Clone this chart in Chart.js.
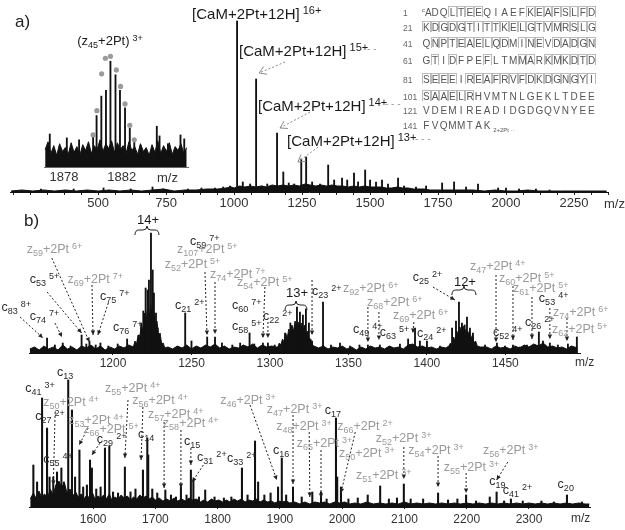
<!DOCTYPE html>
<html>
<head>
<meta charset="utf-8">
<script src="https://cdn.jsdelivr.net/npm/chart.js@4.4.0/dist/chart.umd.min.js"></script>
<style>
  body { margin: 0; background: #fff; width: 625px; height: 530px; overflow: hidden; position: relative; font-family: Arial, "Liberation Sans", sans-serif; }
  canvas { position: absolute; }
  .txt { position: absolute; color: #222; white-space: nowrap; }
  .seq { position: absolute; left: 403px; font-size: 10px; color: #555; white-space: nowrap; }
  .num { display: inline-block; width: 19px; font-size: 8.5px; color: #666; }
  .aa { display: inline-block; width: 8.7px; height: 11px; line-height: 11px; text-align: center; box-sizing: border-box; }
  .cut { border: 1px solid #bbb; border-bottom: none; }
</style>
</head>
<body>
<canvas id="chartA" width="625" height="215" style="left:0;top:0"></canvas>
<canvas id="chartInset" width="152" height="155" style="left:40px;top:30px"></canvas>
<canvas id="chartB1" width="625" height="158" style="left:0;top:212px"></canvas>
<canvas id="chartB2" width="625" height="164" style="left:0;top:366px"></canvas>
<div class="txt" style="left:15px;top:12px;font-size:17px">a)</div>
<div class="txt" style="left:24px;top:211px;font-size:17px">b)</div>
<div class="txt" style="left:604px;top:196px;font-size:13px;color:#333">m/z</div>
<div class="txt" style="left:157px;top:170px;font-size:13px;color:#333">m/z</div>
<div class="txt" style="left:575px;top:355px;font-size:12px;color:#333">m/z</div>
<div class="txt" style="left:571px;top:511px;font-size:12px;color:#333">m/z</div>
<div id="seqBox"></div>
<script>
// ---- panel a: full spectrum (intensity in arbitrary units)
const aPeakMz = [290, 410, 520, 620, 700, 740, 830, 880, 930, 960, 985, 1011, 1032, 1059, 1081, 1103, 1122, 1158, 1181, 1201, 1221, 1247, 1265, 1287, 1316, 1346, 1368, 1397, 1416, 1441, 1456, 1482, 1500, 1522, 1544, 1566, 1603, 1625, 1669, 1706, 1765, 1809, 1853, 1897, 1971, 2000, 2048, 2110, 2160];
const aPeakInt = [3, 3, 4, 3, 5, 3, 3, 4, 4, 5, 6, 171, 10, 8, 113, 6, 8, 59, 20, 9, 8, 33, 35, 10, 8, 27, 12, 14, 12, 19, 10, 22, 12, 10, 12, 8, 14, 6, 5, 6, 9, 10, 5, 8, 4, 4, 3, 3, 2];
const aBase = [[180,1],[220,2],[260,1],[300,2],[340,1],[380,2],[420,1],[460,2],[500,1],[540,2],[580,1],[620,2],[660,1],[700,2],[740,3],[780,1],[820,2],[860,2],[900,3],[940,3],[970,4],[990,5],[1000,4],[1020,6],[1040,5],[1060,6],[1080,5],[1100,6],[1120,5],[1140,7],[1160,6],[1180,7],[1200,6],[1220,7],[1240,6],[1260,8],[1280,7],[1300,6],[1320,7],[1340,6],[1360,7],[1380,6],[1400,6],[1420,5],[1440,6],[1460,5],[1480,6],[1500,5],[1520,5],[1540,5],[1560,4],[1580,4],[1600,5],[1620,4],[1640,4],[1660,3],[1680,3],[1700,3],[1720,2],[1760,2],[1800,2],[1840,2],[1880,2],[1920,1],[1960,2],[2000,1],[2040,1],[2080,2],[2120,1],[2160,1],[2200,1],[2240,1],[2280,1],[2320,1],[2370,1]];
const aTicks = [500, 750, 1000, 1250, 1500, 1750, 2000, 2250];

// ---- inset: isotope pattern of (z45+2Pt)3+
const insetMz = [1877.02, 1878.2, 1879.05, 1880.02, 1880.26, 1880.59, 1880.91, 1881.22, 1881.57, 1881.88, 1882.23, 1882.56, 1882.87, 1883.3, 1884.43, 1884.62, 1885.2, 1886.07, 1886.33];
const insetInt = [34, 30, 28, 32, 53, 73, 79, 109, 95, 79, 61, 40, 27, 22, 42, 32, 24, 33, 29];
const insetFitMz = [1880.02, 1880.28, 1880.61, 1880.87, 1881.22, 1881.63, 1881.92, 1882.23, 1882.56, 1882.87];
const insetFitInt = [33, 58, 96, 112, 114, 100, 83, 65, 43, 28];
const insetBase = [[1876.7,18],[1876.9,26],[1877.1,14],[1877.3,22],[1877.5,12],[1877.7,24],[1877.9,16],[1878.1,20],[1878.3,13],[1878.5,25],[1878.7,15],[1878.9,21],[1879.1,12],[1879.3,23],[1879.5,17],[1879.7,26],[1879.9,14],[1880.1,22],[1880.3,18],[1880.5,28],[1880.7,16],[1880.9,24],[1881.1,19],[1881.3,27],[1881.5,15],[1881.7,25],[1881.9,18],[1882.1,22],[1882.3,14],[1882.5,26],[1882.7,17],[1882.9,21],[1883.1,13],[1883.3,24],[1883.5,16],[1883.7,20],[1883.9,12],[1884.1,23],[1884.3,15],[1884.5,27],[1884.7,14],[1884.9,22],[1885.1,16],[1885.3,25],[1885.5,13],[1885.7,21],[1885.9,17],[1886.1,24],[1886.3,14],[1886.5,20]];
const insetTicks = [1878, 1882];

// ---- panel b, upper trace
const b1PeakMz = [1158, 1163, 1168, 1173, 1180, 1183, 1185, 1189, 1192, 1197, 1203, 1209, 1216.5, 1218, 1219.3, 1220.8, 1222.1, 1222.9, 1224.2, 1225.3, 1226.1, 1227.4, 1228.5, 1230, 1246, 1250, 1260, 1265, 1269.4, 1276, 1281, 1287, 1290, 1295.5, 1298.7, 1303, 1309.6, 1313, 1317.2, 1319.1, 1321, 1322.9, 1324.8, 1326.8, 1333.8, 1338.9, 1344.6, 1351, 1357, 1362.4, 1370, 1376.4, 1382.8, 1388, 1392.4, 1395.5, 1400, 1408.3, 1416, 1418.5, 1420.4, 1422.3, 1424, 1425.5, 1427.4, 1429.3, 1437, 1444.6, 1449.7, 1454.8, 1459.2, 1463.7, 1471.3, 1473.9, 1478.3, 1483.4, 1489.8, 1495.5];
const b1PeakInt = [15, 8, 10, 7, 18, 9, 12, 8, 10, 7, 9, 14, 18, 30, 42, 65, 63, 73, 120, 83, 60, 40, 25, 12, 40, 12, 16, 16, 10, 8, 10, 20, 9, 10, 10, 8, 20, 30, 46, 41, 38, 44, 30, 12, 51, 8, 10, 7, 8, 8, 8, 6, 9, 14, 25, 12, 12, 7, 25, 32, 51, 30, 28, 36, 25, 20, 8, 10, 7, 8, 6, 8, 21, 12, 10, 8, 9, 16];
const b1Base = [[1147,4],[1150,6],[1153,3],[1156,7],[1159,4],[1162,6],[1165,3],[1168,8],[1171,4],[1174,6],[1177,3],[1180,7],[1183,5],[1186,8],[1189,4],[1192,7],[1195,3],[1198,6],[1201,4],[1204,7],[1207,5],[1210,8],[1213,6],[1214,12],[1215,9],[1216,18],[1217,14],[1218,28],[1219,22],[1220,40],[1221,30],[1222,45],[1223,35],[1224,48],[1225,36],[1226,42],[1227,28],[1228,32],[1229,18],[1230,20],[1231,9],[1232,10],[1233,5],[1235,6],[1238,4],[1241,7],[1244,5],[1247,8],[1250,4],[1253,7],[1256,5],[1259,8],[1262,6],[1265,9],[1268,5],[1271,7],[1274,4],[1277,6],[1280,5],[1283,8],[1286,6],[1289,9],[1292,5],[1295,8],[1298,6],[1301,7],[1304,6],[1305,6],[1306,10],[1307,8],[1308,14],[1309,11],[1310,20],[1311,15],[1312,24],[1313,19],[1314,28],[1315,22],[1316,32],[1317,25],[1318,31],[1319,24],[1320,30],[1321,22],[1322,28],[1323,20],[1324,22],[1325,14],[1326,14],[1327,8],[1328,7],[1331,5],[1334,7],[1337,4],[1340,6],[1343,5],[1346,7],[1349,4],[1352,6],[1355,3],[1358,6],[1361,4],[1364,7],[1367,5],[1370,6],[1373,4],[1376,7],[1379,5],[1382,6],[1385,4],[1388,8],[1391,9],[1394,6],[1397,7],[1400,5],[1403,6],[1406,4],[1409,6],[1412,5],[1414,7],[1415,10],[1416,8],[1417,16],[1418,12],[1419,22],[1420,17],[1421,26],[1422,20],[1423,27],[1424,19],[1425,24],[1426,18],[1427,22],[1428,14],[1429,18],[1430,10],[1431,12],[1432,7],[1434,6],[1438,6],[1441,4],[1444,7],[1447,5],[1450,6],[1453,4],[1456,7],[1459,5],[1462,8],[1465,6],[1468,9],[1471,7],[1474,10],[1477,6],[1480,7],[1483,5],[1486,6],[1489,4],[1492,7],[1496,5]];
const b1Ticks = [1200, 1250, 1300, 1350, 1400, 1450];

// ---- panel b, lower trace
const b2PeakMz = [1504, 1510, 1518, 1526, 1530, 1536, 1542, 1549, 1553, 1560, 1566, 1571, 1578, 1584, 1590, 1595, 1598, 1605, 1612, 1619, 1626, 1632, 1640, 1651, 1660, 1668, 1680, 1687, 1688.5, 1695, 1703, 1716, 1725, 1733, 1741, 1750, 1757, 1761, 1770, 1780, 1795, 1810, 1822, 1839, 1848, 1860, 1865, 1875, 1885, 1897, 1903, 1910, 1921, 1935, 1952, 1966, 1975, 1990, 1992, 1998, 2010, 2025, 2041, 2061, 2075, 2088, 2099, 2110, 2130, 2154, 2170, 2185, 2199, 2215, 2237, 2248, 2260, 2271, 2290, 2320, 2340, 2361, 2385];
const b2PeakInt = [42, 25, 109, 79, 30, 30, 35, 39, 25, 127, 97, 30, 57, 20, 22, 47, 39, 18, 20, 59, 61, 15, 14, 40, 15, 18, 37, 69, 52, 18, 14, 17, 12, 10, 20, 12, 37, 27, 10, 17, 10, 9, 10, 39, 12, 66, 25, 12, 14, 20, 49, 12, 20, 10, 15, 15, 8, 89, 30, 20, 8, 9, 12, 21, 8, 9, 23, 8, 8, 14, 7, 8, 12, 6, 10, 15, 6, 8, 6, 6, 5, 12, 5];
const b2Base = [[1499,8],[1504,14],[1508,9],[1513,16],[1517,10],[1522,13],[1527,9],[1531,18],[1536,12],[1540,22],[1545,26],[1549,20],[1554,24],[1558,14],[1563,18],[1567,11],[1572,15],[1576,10],[1581,13],[1585,8],[1590,12],[1594,9],[1599,14],[1603,8],[1608,11],[1612,9],[1617,12],[1621,8],[1626,13],[1630,7],[1635,10],[1640,8],[1645,12],[1650,9],[1655,11],[1660,7],[1665,10],[1670,8],[1675,12],[1680,9],[1685,11],[1690,8],[1695,10],[1700,7],[1706,9],[1712,6],[1718,8],[1724,6],[1730,9],[1736,6],[1742,8],[1748,6],[1754,9],[1760,7],[1766,8],[1772,5],[1778,7],[1784,5],[1790,8],[1796,6],[1802,7],[1808,5],[1814,7],[1820,5],[1826,8],[1832,6],[1838,8],[1844,5],[1850,7],[1856,6],[1862,8],[1868,5],[1874,7],[1880,5],[1886,6],[1892,4],[1898,6],[1904,5],[1910,6],[1916,4],[1924,5],[1932,3],[1940,5],[1948,3],[1956,5],[1964,4],[1972,5],[1980,3],[1988,5],[1996,4],[2004,5],[2012,3],[2020,4],[2030,3],[2040,5],[2050,3],[2060,4],[2070,3],[2080,4],[2090,3],[2100,5],[2110,3],[2120,4],[2130,3],[2140,4],[2150,3],[2160,4],[2170,3],[2180,4],[2190,3],[2200,4],[2210,3],[2220,4],[2230,3],[2240,4],[2250,3],[2260,4],[2270,3],[2280,4],[2290,3],[2300,4],[2310,3],[2320,4],[2330,3],[2340,4],[2350,3],[2360,4],[2370,3],[2380,4],[2390,3],[2397,3]];
const b2Ticks = [1600, 1700, 1800, 1900, 2000, 2100, 2200, 2300];

// ---- annotations: [m/z, intensity, text, kind, align]
const aLabels = [
  [845.6, 177, '[CaM+2Pt+12H]^{16+}', 'k'],
  [1018, 140, '[CaM+2Pt+12H]^{15+}', 'k'],
  [1088, 85, '[CaM+2Pt+12H]^{14+}', 'k'],
  [1195, 50, '[CaM+2Pt+12H]^{13+}', 'k'],
  [1489, 143, '- -', 'z'], [1555, 88, '- - -', 'z'], [1665, 53, '- - -', 'z']
];
const aArrows = [[1187.5, 130, 1092, 119], [1279, 80, 1169, 64], [1309, 45, 1235, 30]];
const insetLabels = [[1878.92, 129, '(z_{45}+2Pt)^{3+}', 'k']];

const b1Labels = [
  [1129, 45, 'c_{83}^{8+}', 'c'], [1147, 36, 'c_{74}^{7+}', 'c'], [1147, 73, 'c_{53}^{5+}', 'c'],
  [1145, 103, 'z_{59}+2Pt^{6+}', 'z'], [1171, 73, 'z_{69}+2Pt^{7+}', 'z'], [1191.7, 56, 'c_{75}^{7+}', 'c'],
  [1200, 25, 'c_{76}^{7+}', 'c'], [1239.5, 47, 'c_{21}^{2+}', 'c'], [1249, 111, 'c_{59}^{7+}', 'c'],
  [1240.8, 103, 'z_{107}+2Pt^{5+}', 'z'], [1233, 88, 'z_{52}+2Pt^{5+}', 'z'], [1261.8, 78, 'z_{74}+2Pt^{7+}', 'z'],
  [1279, 70, 'z_{54}+2Pt^{5+}', 'z'], [1275.8, 47, 'c_{60}^{7+}', 'c'], [1275.8, 26, 'c_{58}^{5+}', 'c'],
  [1295.5, 36, 'c_{22}^{2+}', 'c'], [1326.8, 61, 'c_{23}^{2+}', 'c'], [1346.5, 64, 'z_{92}+2Pt^{6+}', 'z'],
  [1361.8, 50, 'z_{68}+2Pt^{6+}', 'z'], [1378.3, 37, 'z_{69}+2Pt^{6+}', 'z'], [1352.9, 23, 'c_{49}^{4+}', 'c'],
  [1370, 20, 'c_{63}^{5+}', 'c'], [1393.6, 19, 'c_{24}^{2+}', 'c'], [1391, 75, 'c_{25}^{2+}', 'c'],
  [1427.4, 86, 'z_{47}+2Pt^{4+}', 'z'], [1445.9, 74, 'z_{60}+2Pt^{5+}', 'z'], [1454.8, 64, 'z_{61}+2Pt^{5+}', 'z'],
  [1471.3, 54, 'c_{53}^{4+}', 'c'], [1480.3, 40, 'z_{74}+2Pt^{6+}', 'z'], [1462.4, 30, 'c_{26}^{2+}', 'c'],
  [1479.6, 23, 'z_{62}+2Pt^{5+}', 'z'], [1442, 20, 'c_{52}^{4+}', 'c'],
  [1222.3, 133, '14+', 'k', 'center'], [1317.2, 60, '13+', 'k', 'center'], [1424.2, 71, '12+', 'k', 'center']
];
const b1Arrows = [
  [1140.8, 36, 1155.4, 15], [1163, 30, 1167.5, 16], [1158, 61, 1180, 20], [1161, 95, 1185, 11],
  [1186.6, 68, 1187.3, 18], [1197, 50, 1190.4, 18], [1258.6, 81, 1259.9, 18], [1265, 71, 1265, 19],
  [1296.8, 66, 1295.5, 15], [1298.7, 31, 1298.7, 15], [1326.8, 73, 1326.8, 18], [1362.4, 46, 1362.4, 11],
  [1369.4, 41, 1369.4, 13], [1391.7, 31, 1391, 20], [1403.8, 66, 1417.8, 53], [1444, 78, 1444, 11],
  [1454.8, 67, 1454.8, 13], [1466.9, 56, 1466.9, 14], [1478.3, 45, 1478.3, 14], [1489.2, 35, 1489.2, 12]
];
const b1Braces = [[1214, 1229.3, 123], [1309.6, 1323.6, 48], [1415.9, 1431.2, 63]];

const b2Labels = [
  [1542, 134, 'c_{13}', 'c'], [1491, 118, 'c_{41}^{3+}', 'c'], [1520, 104, 'z_{50}+2Pt^{4+}', 'z'],
  [1507, 90, 'c_{27}^{2+}', 'c'], [1560, 86, 'z_{53}+2Pt^{4+}', 'z'], [1584, 77, 'z_{66}+2Pt^{5+}', 'z'],
  [1606, 67, 'c_{29}^{2+}', 'c'], [1520, 47, 'c_{55}^{4+}', 'c'], [1619, 118, 'z_{55}+2Pt^{4+}', 'z'],
  [1663, 106, 'z_{56}+2Pt^{4+}', 'z'], [1672, 72, 'c_{14}', 'c'], [1688, 92, 'z_{57}+2Pt^{4+}', 'z'],
  [1712, 83, 'z_{58}+2Pt^{4+}', 'z'], [1746, 65, 'c_{15}', 'c'], [1767, 49, 'c_{31}^{2+}', 'c'],
  [1815, 48, 'c_{33}^{2+}', 'c'], [1804, 106, 'z_{46}+2Pt^{3+}', 'z'], [1889, 56, 'c_{16}', 'c'],
  [1879, 97, 'z_{47}+2Pt^{3+}', 'z'], [1894, 80, 'z_{48}+2Pt^{3+}', 'z'], [1927, 63, 'z_{65}+2Pt^{3+}', 'z'],
  [1972, 96, 'c_{17}', 'c'], [1992, 80, 'z_{66}+2Pt^{2+}', 'z'], [2054, 68, 'z_{52}+2Pt^{3+}', 'z'],
  [1995, 53, 'z_{50}+2Pt^{3+}', 'z'], [2106, 56, 'z_{54}+2Pt^{3+}', 'z'], [2226, 56, 'z_{56}+2Pt^{3+}', 'z'],
  [2163, 39, 'z_{55}+2Pt^{3+}', 'z'], [2022, 31, 'z_{51}+2Pt^{3+}', 'z'], [2236, 25, 'c_{19}', 'c'],
  [2258, 16, 'c_{41}^{2+}', 'c'], [2346, 22, 'c_{20}', 'c']
];
const b2Arrows = [
  [1539, 95, 1536, 22], [1592, 79, 1577.5, 62], [1611, 64, 1598, 52], [1656, 107, 1651, 49],
  [1680, 100, 1677, 47], [1714, 85, 1714, 19], [1741, 77, 1741, 19], [1757, 59, 1757, 42],
  [1777, 42, 1759, 25], [1852, 102, 1895, 27], [1921, 92, 1921, 23], [1947, 75, 1948, 10],
  [1966, 57, 1966, 9], [2021, 75, 1998, 14], [2099, 60, 2099, 28], [2154, 51, 2154, 20],
  [2199, 34, 2199, 14], [2266, 45, 2248, 27]
];

// ---- sequence map
const seqNums = ['1', '21', '41', '61', '81', '101', '121', '141'];
const seqRows = ['ADQLTEEQIAEFKEAFSLFD', 'KDGDGTITTKELGTVMRSLG', 'QNPTEAELQDMINEVDADGN', 'GTIDFPEFLTMMARKMKDTD', 'SEEEIREAFRVFDKDGNGYI', 'SAAELRHVMTNLGEKLTDEE', 'VDEMIREADIDGDGQVNYEE', 'FVQMMTAK'];
const seqCut = ['00011110000011111111', '11111111111111111111', '01111111110111011111', '01010001000110111111', '11110111111111111111', '11111100000000000000', '00000000000000000000', '00000000'];
const seqRowY = [5, 21, 37, 54, 73, 90, 105, 120];

let seqHtml = '';
seqRows.forEach((row, r) => {
    let s = `<div class="seq" style="top:${seqRowY[r]}px"><span class="num">${seqNums[r]}</span>`;
    for (let i = 0; i < row.length; i++) {
        let cls = seqCut[r][i] === '1' ? 'aa cut' : 'aa';
        let pre = (r === 0 && i === 0) ? '<sup style="font-size:6px">c</sup>' : '';
        s += `<span class="${cls}">${pre}${row[i]}</span>`;
    }
    if (r === 7) s += '<span style="font-size:6px;vertical-align:-3px">&nbsp;2+2Pt&nbsp;&middot;&middot;</span>';
    seqHtml += s + '</div>';
});
document.getElementById('seqBox').innerHTML = seqHtml;

// ---- drawing helpers
function drawRich(ctx, str, x, y, size, align) {
    let segs = [];
    let re = /_\{([^}]*)\}|\^\{([^}]*)\}|([^_^]+)/g;
    let m;
    while ((m = re.exec(str))) {
        if (m[1] !== undefined) segs.push({t: m[1], k: 'sub'});
        else if (m[2] !== undefined) segs.push({t: m[2], k: 'sup'});
        else segs.push({t: m[3], k: 'n'});
    }
    let small = Math.round(size * 0.72);
    let font = k => (k === 'n' ? size : small) + 'px Arial';
    let w = 0;
    segs.forEach(s => {
        ctx.font = font(s.k);
        s.gap = s.k === 'sup' ? 3 : 0;
        s.w = ctx.measureText(s.t).width + s.gap;
        w += s.w;
    });
    let cx = align === 'center' ? x - w / 2 : x;
    ctx.textAlign = 'left';
    ctx.textBaseline = 'middle';
    segs.forEach(s => {
        ctx.font = font(s.k);
        let dy = s.k === 'sub' ? size * 0.3 : s.k === 'sup' ? -size * 0.28 : 0;
        ctx.fillText(s.t, cx + s.gap, y + dy);
        cx += s.w;
    });
}

function drawArrow(ctx, x1, y1, x2, y2, color, open) {
    ctx.save();
    ctx.strokeStyle = color;
    ctx.fillStyle = color;
    ctx.lineWidth = 1;
    ctx.setLineDash([2, 2]);
    ctx.beginPath();
    ctx.moveTo(x1, y1);
    ctx.lineTo(x2, y2);
    ctx.stroke();
    ctx.setLineDash([]);
    let a = Math.atan2(y2 - y1, x2 - x1);
    let L = open ? 8 : 5, sp = open ? 0.55 : 0.45;
    ctx.beginPath();
    ctx.moveTo(x2 - L * Math.cos(a - sp), y2 - L * Math.sin(a - sp));
    ctx.lineTo(x2, y2);
    ctx.lineTo(x2 - L * Math.cos(a + sp), y2 - L * Math.sin(a + sp));
    if (open) ctx.stroke(); else { ctx.closePath(); ctx.fill(); }
    ctx.restore();
}

function drawBrace(ctx, x1, x2, y) {
    let m = (x1 + x2) / 2;
    ctx.save();
    ctx.strokeStyle = '#222';
    ctx.lineWidth = 1;
    ctx.beginPath();
    ctx.moveTo(x1, y + 5);
    ctx.quadraticCurveTo(x1, y, x1 + 4, y);
    ctx.lineTo(m - 4, y);
    ctx.quadraticCurveTo(m, y, m, y - 4);
    ctx.quadraticCurveTo(m, y, m + 4, y);
    ctx.lineTo(x2 - 4, y);
    ctx.quadraticCurveTo(x2, y, x2, y + 5);
    ctx.stroke();
    ctx.restore();
}

const notesPlugin = {
    id: 'notes',
    afterDraw(chart, args, opts) {
        if (!opts || !opts.labels) return;
        let ctx = chart.ctx, xs = chart.scales.x, ys = chart.scales.y;
        let px = v => xs.getPixelForValue(v), py = v => ys.getPixelForValue(v);
        (opts.arrows || []).forEach(a => drawArrow(ctx, px(a[0]), py(a[1]), px(a[2]), py(a[3]), opts.arrowColor, opts.open));
        (opts.braces || []).forEach(b => drawBrace(ctx, px(b[0]), px(b[1]), py(b[2])));
        opts.labels.forEach(l => {
            ctx.fillStyle = l[3] === 'z' ? '#9a9a9a' : l[3] === 'c' ? '#2a2a2a' : '#1a1a1a';
            drawRich(ctx, l[2], px(l[0]), py(l[1]), l[3] === 'k' ? opts.bigSize : opts.size, l[4]);
        });
    }
};
Chart.register(notesPlugin);

function pairs(xs, ys) {
    return xs.map((x, i) => ({x: x, y: ys[i]}));
}

function renderSpectrum(id, o) {
    let ctx = document.getElementById(id);
    let datasets = [
        {
            type: 'line',
            data: o.base.map(p => ({x: p[0], y: p[1]})),
            borderColor: '#111',
            backgroundColor: '#111',
            borderWidth: 1,
            pointRadius: 0,
            fill: 'origin',
            tension: 0,
            order: 2
        },
        {
            type: 'bar',
            data: pairs(o.mz, o.int),
            backgroundColor: '#111',
            barThickness: o.bar,
            grouped: false,
            order: 1
        }
    ];
    if (o.fitMz) {
        datasets.push({
            type: 'line',
            data: pairs(o.fitMz, o.fitInt),
            showLine: false,
            pointRadius: 2.6,
            pointBackgroundColor: '#9a9a9a',
            pointBorderWidth: 0,
            order: 0
        });
    }
    new Chart(ctx, {
        type: 'bar',
        data: {datasets: datasets},
        options: {
            responsive: false,
            animation: false,
            devicePixelRatio: 1,
            layout: {padding: {left: o.padL, right: o.padR, top: 0, bottom: 0}},
            plugins: {
                legend: {display: false},
                tooltip: {enabled: false},
                notes: o.notes
            },
            scales: {
                x: {
                    type: 'linear',
                    min: o.min,
                    max: o.max,
                    offset: false,
                    afterFit: s => { s.height = o.axisH; },
                    afterBuildTicks: s => { s.ticks = o.tickVals.map(v => ({value: v})); },
                    ticks: {
                        autoSkip: false,
                        maxRotation: 0,
                        padding: o.tickPad,
                        color: '#333',
                        font: {family: 'Arial', size: o.tickSize},
                        callback: v => o.ticks.includes(v) ? String(v) : ''
                    },
                    grid: {
                        drawOnChartArea: false,
                        offset: false,
                        tickLength: o.tickLen,
                        color: '#222'
                    },
                    border: {color: o.axisColor || '#111', width: 1, dash: o.axisDash || []}
                },
                y: {
                    display: false,
                    min: 0,
                    max: o.yMax
                }
            }
        }
    });
}

let aTickVals = [];
for (let v = 187.5; v <= 2375; v += 62.5) aTickVals.push(v);

renderSpectrum('chartA', {
    mz: aPeakMz, int: aPeakInt, base: aBase, bar: 1.2,
    min: 176, max: 2375, padL: 10, padR: 17, axisH: 23, yMax: 192,
    ticks: aTicks, tickVals: aTickVals, tickLen: 3, tickPad: 1, tickSize: 13,
    notes: {labels: aLabels, arrows: aArrows, arrowColor: '#8a8a8a', open: true, size: 10, bigSize: 15}
});

renderSpectrum('chartInset', {
    mz: insetMz, int: insetInt, base: insetBase, bar: 1.2, fitMz: insetFitMz, fitInt: insetFitInt,
    min: 1876.62, max: 1886.59, padL: 0, padR: 0, axisH: 18, yMax: 137,
    ticks: insetTicks, tickVals: insetTicks, tickLen: 0, tickPad: 3, tickSize: 13,
    axisColor: '#666', axisDash: [2, 2],
    notes: {labels: insetLabels, arrows: [], size: 10, bigSize: 13}
});

renderSpectrum('chartB1', {
    mz: b1PeakMz, int: b1PeakInt, base: b1Base, bar: 1.2,
    min: 1146.5, max: 1497.5, padL: 29, padR: 45, axisH: 17, yMax: 141,
    ticks: b1Ticks, tickVals: b1Ticks, tickLen: 2, tickPad: 1, tickSize: 12,
    notes: {labels: b1Labels, arrows: b1Arrows, braces: b1Braces, arrowColor: '#222', open: false, size: 12.5, bigSize: 13}
});

renderSpectrum('chartB2', {
    mz: b2PeakMz, int: b2PeakInt, base: b2Base, bar: 1.4,
    min: 1497, max: 2398, padL: 29, padR: 35, axisH: 23, yMax: 141,
    ticks: b2Ticks, tickVals: b2Ticks, tickLen: 2, tickPad: 3, tickSize: 12,
    notes: {labels: b2Labels, arrows: b2Arrows, arrowColor: '#222', open: false, size: 12.5, bigSize: 13}
});
</script>
</body>
</html>
